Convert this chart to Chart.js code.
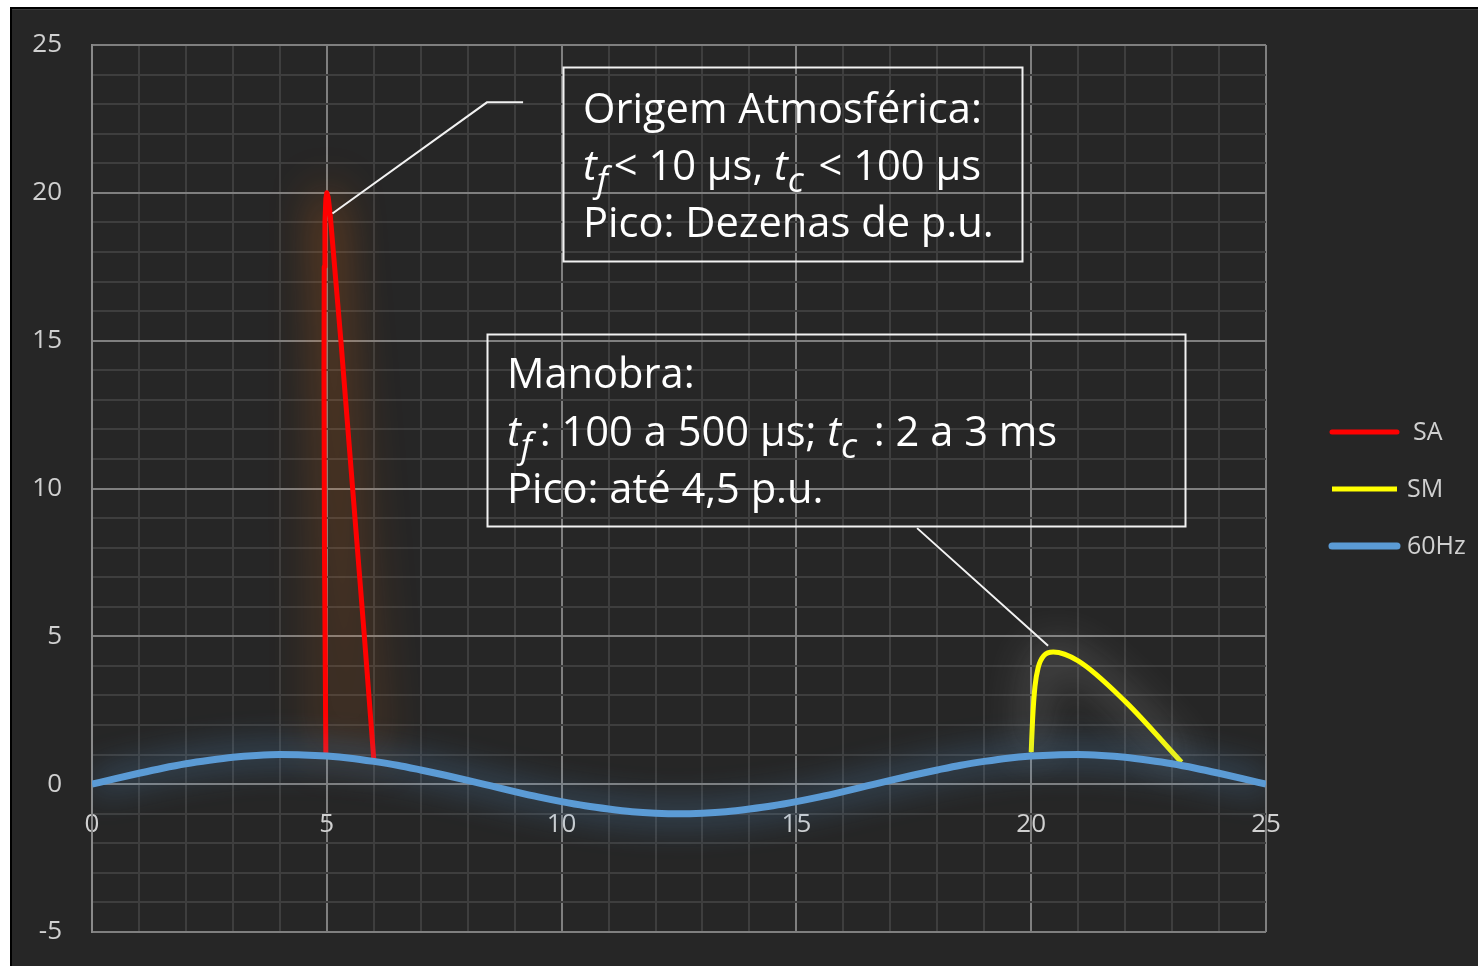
<!DOCTYPE html>
<html><head><meta charset="utf-8">
<script src="https://cdn.jsdelivr.net/npm/chart.js@4.4.0/dist/chart.umd.min.js"></script>
<style>html,body{margin:0;padding:0;background:#fff;overflow:hidden}#c{position:absolute;left:0;top:0;width:1478px;height:966px}</style>
</head><body><canvas id="c" width="1478" height="966"></canvas>
<script>
// ---- data ----
const seriesNames = ['SA', 'SM', '60Hz'];
const seriesColors = ['#ff0000', '#ffff00', '#5b9bd5'];
const xTickLabels = [0, 5, 10, 15, 20, 25];
const yTickLabels = [-5, 0, 5, 10, 15, 20, 25];

const saX = [4.98, 4.95, 4.94, 4.945, 4.96, 4.98, 5.0, 5.03, 5.07, 5.3, 5.55, 5.8, 6.0];
const saY = [0.95, 8.0, 14.0, 17.5, 19.0, 19.8, 20.0, 19.85, 19.3, 15.0, 10.0, 5.0, 0.85];

const smX = [20.0, 20.03, 20.08, 20.15, 20.27, 20.47, 21.0, 22.0, 23.2];
const smY = [1.08, 2.2, 3.3, 3.95, 4.35, 4.47, 4.17, 2.80, 0.74];

const hzX = [0,0.5,1,1.5,2,2.5,3,3.5,4,4.5,5,5.5,6,6.5,7,7.5,8,8.5,9,9.5,10,10.5,11,11.5,12,12.5,
             13,13.5,14,14.5,15,15.5,16,16.5,17,17.5,18,18.5,19,19.5,20,20.5,21,21.5,22,22.5,23,23.5,24,24.5,25];
const hzY = [0,0.19,0.37,0.54,0.69,0.81,0.91,0.97,1.00,0.99,0.95,0.88,0.77,0.64,0.48,0.31,0.13,-0.06,-0.25,-0.43,
             -0.59,-0.73,-0.84,-0.93,-0.98,-1.00,-0.98,-0.93,-0.84,-0.73,-0.59,-0.43,-0.25,-0.06,0.13,0.31,0.48,0.64,
             0.77,0.88,0.95,0.99,1.00,0.97,0.91,0.81,0.69,0.54,0.37,0.19,0];

// annotation text
const box1Lines = ['Origem Atmosférica:', null, 'Pico: Dezenas de p.u.'];
const box2Lines = ['Manobra:', null, 'Pico: até 4,5 p.u.'];

const FONT = '"Open Sans", "Noto Sans", sans-serif';
const toPts = (xs, ys) => xs.map((x, i) => ({x: x, y: ys[i]}));

const bgPlugin = {
  id: 'bg',
  beforeDraw(chart) {
    const ctx = chart.ctx;
    ctx.save();
    ctx.fillStyle = '#ffffff';
    ctx.fillRect(0, 0, chart.width, chart.height);
    ctx.fillStyle = '#262626';
    ctx.fillRect(10, 7, chart.width - 10, chart.height - 7);
    ctx.fillStyle = '#000000';
    ctx.fillRect(10, 7, chart.width - 10, 2);
    ctx.fillRect(10, 7, 2, chart.height - 7);
    ctx.fillStyle = '#3c3c3c';
    ctx.fillRect(12, 9, chart.width - 12, 1);
    ctx.restore();
  }
};

const glowPlugin = {
  id: 'glow',
  beforeDatasetDraw(chart, args) {
    const ds = chart.data.datasets[args.index];
    const ctx = chart.ctx;
    ctx.save();
    ctx.shadowColor = ds.glowColor;
    ctx.shadowBlur = ds.glowBlur;
  },
  afterDatasetDraw(chart) {
    chart.ctx.restore();
  }
};

function drawRich(ctx, segs, x, y, size) {
  let cx = x;
  segs.forEach(s => {
    const fs = s.sub ? size * 0.85 : size;
    ctx.font = (s.it ? 'italic ' : '') + fs + 'px ' + FONT;
    ctx.fillText(s.t, cx, y + (s.sub ? size * 0.3 : 0));
    cx += ctx.measureText(s.t).width + (s.gap || 0);
  });
}

const annoPlugin = {
  id: 'anno',
  afterDraw(chart) {
    const ctx = chart.ctx;
    const xs = chart.scales.x, ys = chart.scales.y;
    const px = v => xs.getPixelForValue(v), py = v => ys.getPixelForValue(v);
    ctx.save();
    // fit font size to the reference width
    ctx.font = '40px ' + FONT;
    const size = 40 * 399 / ctx.measureText(box1Lines[0]).width;
    ctx.strokeStyle = '#f2f2f2';
    ctx.lineWidth = 2;
    // boxes (data coords)
    const b1 = [10.03, 24.25, 19.80, 17.69];
    const b2 = [8.41, 15.22, 23.28, 8.73];
    [b1, b2].forEach(b => {
      ctx.strokeRect(Math.round(px(b[0])) + 0.5, Math.round(py(b[1])) + 0.5,
        Math.round(px(b[2]) - px(b[0])), Math.round(py(b[3]) - py(b[1])));
    });
    // callouts
    ctx.beginPath();
    ctx.moveTo(px(9.18), py(23.06)); ctx.lineTo(px(8.41), py(23.06)); ctx.lineTo(px(5.12), py(19.3));
    ctx.moveTo(px(17.57), py(8.66)); ctx.lineTo(px(20.36), py(4.68));
    ctx.stroke();
    // text
    ctx.fillStyle = '#ffffff';
    ctx.textBaseline = 'alphabetic';
    ctx.textAlign = 'left';
    const t1x = px(b1[0]) + 20, t2x = px(b2[0]) + 20;
    const t1y = [123, 180, 237], t2y = [388, 446, 503];
    ctx.font = size + 'px ' + FONT;
    ctx.fillText(box1Lines[0], t1x, t1y[0]);
    ctx.fillText(box1Lines[2], t1x, t1y[2]);
    drawRich(ctx, [{t:'t', it:1}, {t:'f', it:1, sub:1, gap:6}, {t:'< 10 µs, '}, {t:'t', it:1}, {t:'c', it:1, sub:1, gap:4}, {t:' < 100 µs'}], t1x, t1y[1], size);
    ctx.font = size + 'px ' + FONT;
    ctx.fillText(box2Lines[0], t2x, t2y[0]);
    ctx.fillText(box2Lines[2], t2x, t2y[2]);
    drawRich(ctx, [{t:'t', it:1}, {t:'f', it:1, sub:1, gap:8}, {t:': 100 a 500 µs; '}, {t:'t', it:1}, {t:'c', it:1, sub:1, gap:6}, {t:' : 2 a 3 ms'}], t2x, t2y[1], size);
    // legend
    const ly = [432, 489, 546], lw = [5, 5, 7], lcap = ['round', 'butt', 'round'], ltx = [1413, 1407, 1407];
    chart.data.datasets.forEach((ds, i) => {
      ctx.beginPath();
      ctx.strokeStyle = ds.borderColor;
      ctx.lineWidth = lw[i];
      ctx.lineCap = lcap[i];
      ctx.moveTo(1332, ly[i]); ctx.lineTo(1397, ly[i]);
      ctx.stroke();
      ctx.fillStyle = '#d0d0d0';
      ctx.font = '25px ' + FONT;
      ctx.textBaseline = 'middle';
      ctx.fillText(ds.label, ltx[i], ly[i] + 1);
    });
    ctx.restore();
  }
};

const majorOrMinor = (ctx) => (ctx.tick && Math.round(ctx.tick.value) % 5 === 0) ? '#7f7f7f' : '#3e3e3e';

new Chart(document.getElementById('c'), {
  type: 'line',
  data: {
    datasets: [
      {label: seriesNames[0], data: toPts(saX, saY), borderColor: seriesColors[0], borderWidth: 5,
       tension: 0, pointRadius: 0, fill: false, order: 1, borderJoinStyle: 'round',
       glowColor: 'rgba(255,120,20,0.9)', glowBlur: 45},
      {label: seriesNames[1], data: toPts(smX, smY), borderColor: seriesColors[1], borderWidth: 5,
       cubicInterpolationMode: 'monotone', pointRadius: 0, fill: false, order: 1,
       glowColor: 'rgba(230,230,230,0.9)', glowBlur: 40},
      {label: seriesNames[2], data: toPts(hzX, hzY), borderColor: seriesColors[2], borderWidth: 7,
       cubicInterpolationMode: 'monotone', pointRadius: 0, fill: false, order: 0,
       glowColor: 'rgba(91,155,213,1)', glowBlur: 35}
    ]
  },
  options: {
    responsive: false,
    animation: false,
    devicePixelRatio: 1,
    layout: {padding: {left: 0, top: 45, right: 212, bottom: 34}},
    plugins: {legend: {display: false}, tooltip: {enabled: false}},
    scales: {
      x: {
        type: 'linear', min: 0, max: 25,
        position: {y: 0},
        ticks: {stepSize: 1, autoSkip: false, maxRotation: 0, padding: 25, color: '#d0d0d0',
                font: {family: FONT, size: 26},
                callback: v => xTickLabels.includes(v) ? String(v) : ''},
        grid: {color: majorOrMinor, lineWidth: 2, drawTicks: false},
        border: {display: false}
      },
      y: {
        type: 'linear', min: -5, max: 25,
        ticks: {stepSize: 1, autoSkip: false, padding: 30, color: '#d0d0d0',
                font: {family: FONT, size: 26},
                callback: v => yTickLabels.includes(v) ? String(v) : ''},
        grid: {color: majorOrMinor, lineWidth: 2, drawTicks: false},
        border: {display: true, color: '#8a8a8a', width: 2},
        afterFit: s => { s.width = 92; s.paddingTop = 0; s.paddingBottom = 0; }
      }
    }
  },
  plugins: [bgPlugin, glowPlugin, annoPlugin]
});
</script></body></html>
